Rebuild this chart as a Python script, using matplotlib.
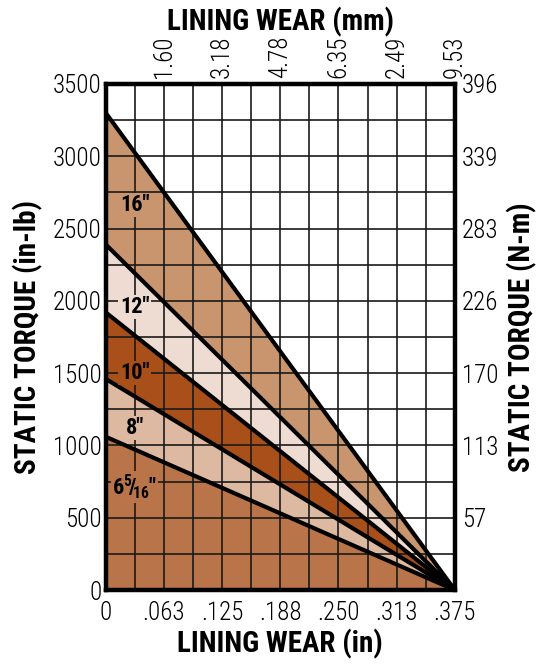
import numpy as np
import matplotlib
matplotlib.use('Agg')
import matplotlib.pyplot as plt

plt.rcParams['mathtext.fontset'] = 'custom'
plt.rcParams['mathtext.rm'] = 'Roboto Condensed:bold'
plt.rcParams['mathtext.bf'] = 'Roboto Condensed:bold'

FONT = ['Roboto Condensed', 'DejaVu Sans']

# lining sizes, bottom band to top band
sizes = ['6$^{5}\\!/\\!_{16}$"', '8"', '10"', '12"', '16"']
intercepts = [1060, 1460, 1920, 2390, 3300]   # torque (in-lb) at zero wear
max_wear = 0.375
colors = ['#B97549', '#DEB9A1', '#A84F1A', '#EEDBD1', '#C9956F']
label_y = [712, 1121, 1501, 1958, 2663]

bottom_ticks = [0, 0.0625, 0.125, 0.1875, 0.25, 0.3125, 0.375]
bottom_labels = ['0', '.063', '.125', '.188', '.250', '.313', '.375']
top_labels = ['', '1.60', '3.18', '4.78', '6.35', '2.49', '9.53']
left_ticks = [0, 500, 1000, 1500, 2000, 2500, 3000, 3500]
right_labels = ['', '57', '113', '170', '226', '283', '339', '396']

fig = plt.figure(figsize=(5.48, 6.64), dpi=100)
ax = fig.add_axes([0.193, 0.1114, 0.637, 0.7621])

x = np.array([0, max_wear])
prev = np.zeros(2)
for c, y0 in zip(colors, intercepts):
    line = np.array([y0, 0])
    ax.fill_between(x, prev, line, color=c, lw=0, zorder=1)
    prev = line
for y0 in intercepts:
    ax.plot(x, [y0, 0], color='black', lw=3, zorder=3, solid_capstyle='butt')

for xv in np.arange(1, 12) * max_wear / 12:
    ax.axvline(xv, color='#1a1a1a', lw=1.2, zorder=2)
for yv in np.arange(250, 3500, 250):
    ax.axhline(yv, color='#1a1a1a', lw=1.2, zorder=2)

for s, y, c in zip(sizes, label_y, colors):
    ax.text(0.031, y, s, ha='center', va='center', fontsize=16, fontweight='bold',
            family=FONT, zorder=4,
            bbox=dict(facecolor=c, edgecolor='none', pad=1.0))

tick_kw = dict(family=FONT, fontsize=18, fontweight='light')
title_kw = dict(family=FONT, fontsize=21, fontweight='bold')

ax.set_xlim(0, max_wear)
ax.set_ylim(0, 3500)
ax.set_xticks(bottom_ticks)
ax.set_xticklabels(bottom_labels, **tick_kw)
ax.set_yticks(left_ticks)
ax.set_yticklabels([str(v) for v in left_ticks], **tick_kw)
ax.tick_params(axis='x', length=0, pad=8)
ax.tick_params(axis='y', length=0, pad=3)
for sp in ax.spines.values():
    sp.set_linewidth(3)
    sp.set_zorder(5)

ax.set_xlabel('LINING WEAR (in)', labelpad=3, **title_kw)
ax.set_ylabel('STATIC TORQUE (in-lb)', labelpad=7, **title_kw)

top = ax.twiny()
top.set_xlim(ax.get_xlim())
top.set_xticks(bottom_ticks)
top.set_xticklabels(top_labels, rotation=90, **tick_kw)
top.tick_params(length=0, pad=4)
top.set_xlabel('LINING WEAR (mm)', labelpad=4, **title_kw)

right = ax.twinx()
right.set_ylim(ax.get_ylim())
right.set_yticks(left_ticks)
right.set_yticklabels(right_labels, **tick_kw)
right.tick_params(length=0, pad=5)
right.set_ylabel('STATIC TORQUE (N-m)', labelpad=6, **title_kw)
for a in (top, right):
    for sp in a.spines.values():
        sp.set_linewidth(3)

fig.savefig('out.png', dpi=100)
